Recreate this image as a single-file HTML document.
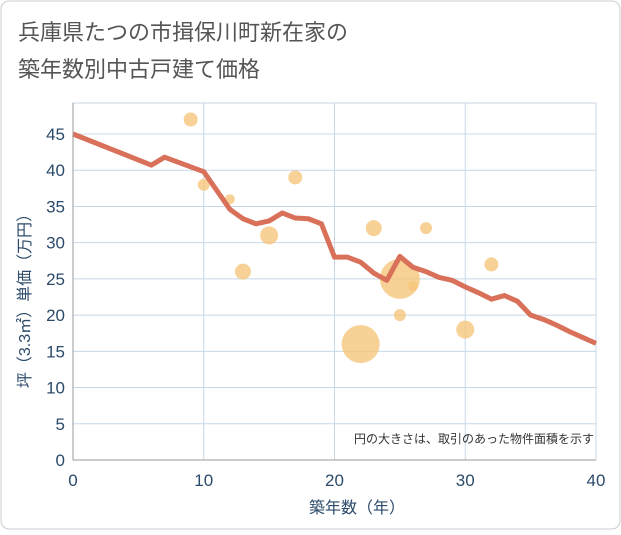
<!DOCTYPE html>
<html><head><meta charset="utf-8"><style>
body{margin:0;background:#fff;}
svg text{font-family:"Liberation Sans","Noto Sans CJK JP",sans-serif;}
</style></head><body>
<svg width="621" height="530" xmlns="http://www.w3.org/2000/svg">
<rect x="1" y="1" width="619" height="528" rx="8" fill="#fff" stroke="#ccc"/>
<text x="18" y="40" font-size="22" fill="#555">兵庫県たつの市揖保川町新在家の</text>
<text x="18" y="77" font-size="22" fill="#555">築年数別中古戸建て価格</text>
<g id="grid"></g>
<g id="bubbles"></g>
<g id="line"></g>
<g id="axes"></g>
<text x="594" y="443" font-size="12" fill="#333" text-anchor="end">円の大きさは、取引のあった物件面積を示す</text>
<text x="357" y="513" font-size="16" fill="#2c4a6a" text-anchor="middle">築年数（年）</text>
<text transform="translate(30,297) rotate(-90)" font-size="16" fill="#2c4a6a" text-anchor="middle">坪（3.3㎡）単価（万円）</text>
</svg>
<script>
const xTicks=[0,10,20,30,40];
const yTicks=[0,5,10,15,20,25,30,35,40,45];
const lineYears=[0,6,7,10,11,12,13,14,15,16,17,18,19,20,21,22,23,24,25,26,27,28,29,30,31,32,33,34,35,36,37,38,39,40];
const linePrices=[45,40.7,41.8,39.8,37.2,34.6,33.3,32.6,33,34.1,33.4,33.3,32.6,28,28,27.3,25.8,24.8,28.1,26.6,26,25.2,24.8,23.9,23.1,22.2,22.7,21.9,20,19.4,18.6,17.7,16.9,16.1];
const bubbleYears=[9,10,12,13,15,17,22,23,25,25,26,27,30,32];
const bubblePrices=[47,38,36,26,31,39,16,32,25,20,24,32,18,27];
const bubbleSizes=[7,6,5,8,9,7,19,8,20,6,5,6,9,7];
const NS="http://www.w3.org/2000/svg";
const X0=73,X1=596,Y0=460,YT=134,PT=103;
const sx=v=>X0+(X1-X0)*v/40;
const sy=v=>Y0-(Y0-YT)*v/45;
function mk(t,a,p){const e=document.createElementNS(NS,t);for(const k in a)e.setAttribute(k,a[k]);p.appendChild(e);return e;}
const grid=document.getElementById('grid'),axes=document.getElementById('axes');
mk('rect',{x:X0,y:PT,width:X1-X0,height:Y0-PT,fill:'none',stroke:'#c8d4e0'},grid);
yTicks.forEach(v=>{
 const l=mk('line',{x1:X0,x2:X1,y1:sy(v),y2:sy(v),stroke:'#c8d8e8','stroke-width':1},grid);
 
 
 const t=mk('text',{x:X0-8,y:sy(v)+6,'font-size':17,fill:'#2c4a6a','text-anchor':'end'},axes);
 t.textContent=v;
 
 
});
xTicks.forEach(v=>{
 const l=mk('line',{x1:sx(v),x2:sx(v),y1:PT,y2:Y0,stroke:'#c8d8e8','stroke-width':1},grid);
 
 
 const t=mk('text',{x:sx(v),y:Y0+26,'font-size':17,fill:'#2c4a6a','text-anchor':'middle'},axes);
 t.textContent=v;
 
 
});
const ax=mk('line',{x1:X0,x2:X1,y1:Y0,y2:Y0,stroke:'#999'},axes);


const ay=mk('line',{x1:X0,x2:X0,y1:PT,y2:Y0,stroke:'#999'},axes);


const bg=document.getElementById('bubbles');
bubbleYears.forEach((yr,i)=>{
 const c=mk('circle',{cx:sx(yr),cy:sy(bubblePrices[i]),r:bubbleSizes[i],fill:'#f5c57a','fill-opacity':0.8},bg);
 
 
});
const pts=lineYears.map((yr,i)=>sx(yr)+','+sy(linePrices[i])).join(' ');
const pl=mk('polyline',{points:pts,fill:'none',stroke:'#d9705a','stroke-width':5,'stroke-linejoin':'round'},document.getElementById('line'));


</script>
</body></html>
